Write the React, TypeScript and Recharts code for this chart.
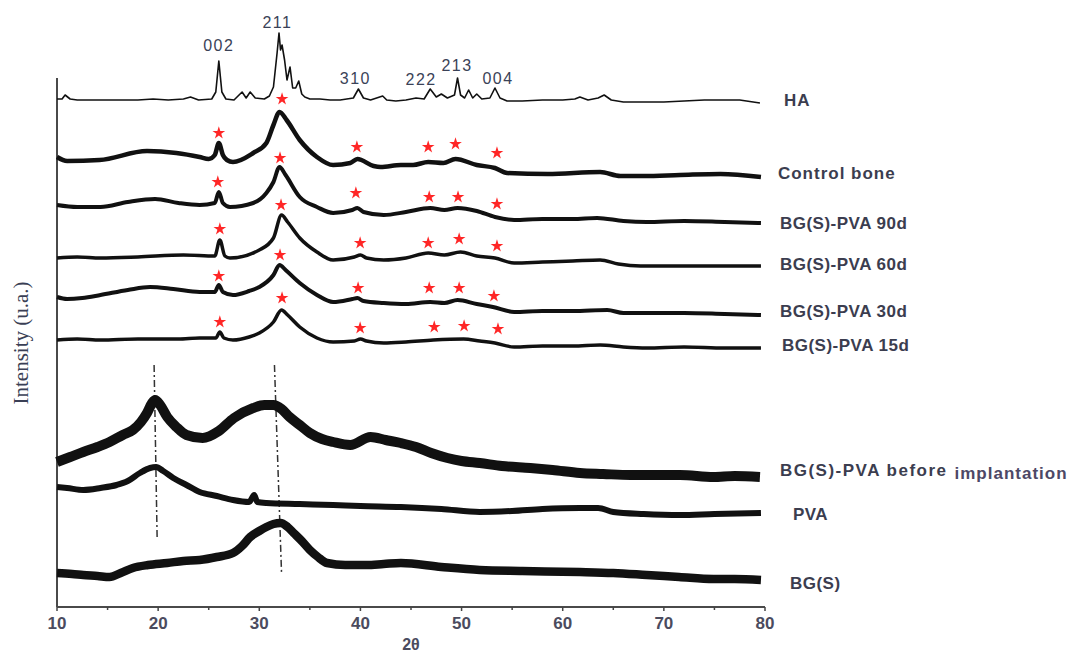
import React from 'react';
import {
  ComposedChart,
  Line,
  Scatter,
  XAxis,
  YAxis,
  ZAxis,
  ReferenceLine,
  Customized,
} from 'recharts';

// ─── Data: [2θ (deg), intensity (a.u., stacked)] ─────────────────────────────

const HA: [number, number][] = [
  [10, 508], [10.5, 508], [10.8, 512], [11.3, 508], [12, 507], [14, 507], [16, 507],
  [18, 507], [19.5, 508], [21, 507], [22.5, 508], [23.2, 510], [24, 507], [25.3, 508],
  [25.7, 515], [26.0, 546], [26.3, 515], [26.7, 508], [27.5, 507], [28.3, 515], [28.7, 509],
  [29.1, 515], [29.6, 509], [30.5, 508], [31.0, 511], [31.4, 520], [31.76, 554], [31.95, 574],
  [32.1, 557], [32.25, 562], [32.5, 547], [32.74, 527], [33.04, 540], [33.3, 519], [33.6, 519],
  [33.9, 526], [34.2, 513], [34.5, 510], [35, 508], [36, 508], [37, 507], [38, 507],
  [39.3, 509], [39.8, 518], [40.3, 509], [41, 507], [42.2, 511], [42.6, 507], [43.5, 506],
  [44.5, 507], [45.5, 509], [46.3, 508], [46.9, 518], [47.5, 510], [48, 513], [48.6, 509],
  [49.3, 512], [49.6, 529], [49.9, 512], [50.3, 509], [50.7, 517], [51.1, 509], [51.5, 513],
  [52, 508], [52.8, 509], [53.3, 519], [53.8, 509], [54.5, 506], [56, 506], [58, 507],
  [60, 507], [61.2, 508], [61.7, 510], [62.5, 507], [63.5, 509], [64.1, 512], [64.8, 507],
  [66, 505], [68, 505], [70, 505], [72, 506], [74, 507], [76, 507], [77.5, 507], [79.5, 504],
];

const CONTROL_BONE: [number, number][] = [
  [10, 450], [11, 446], [14.2, 447], [18.9, 456], [21.8, 454], [24.1, 450], [25, 448],
  [25.6, 452], [26, 464], [26.4, 452], [26.8, 447], [27.4, 445], [29.4, 454], [30.7, 464],
  [31.4, 482], [32, 495], [32.7, 487], [34, 467], [35.7, 450], [37.3, 442], [39, 444],
  [39.7, 448], [41.3, 441], [42, 440], [44, 442], [45.2, 442], [46.7, 445], [48.2, 444],
  [49.4, 448], [51.5, 442], [53.3, 439], [54.5, 434], [58.5, 433], [63.7, 435], [65.7, 431],
  [68, 431], [71.6, 432], [75.6, 433], [79.6, 430],
];

const PVA_90D: [number, number][] = [
  [10, 402], [12, 400], [14.3, 400], [17, 405], [19.7, 408], [22, 404], [24.1, 402],
  [25.6, 404], [26, 415], [26.4, 404], [27.1, 400], [29.4, 404], [30.7, 414], [31.4, 425],
  [32, 440], [32.6, 432], [34, 410], [35.7, 400], [37.3, 394], [39.2, 397], [39.7, 399],
  [40.3, 395], [42.3, 392], [44.5, 395], [46.9, 399], [48.3, 397], [49.6, 399], [51.5, 396],
  [53.3, 390], [55.2, 387], [58, 388], [61, 388], [63.4, 389], [66, 386], [68.3, 385],
  [72, 386], [76, 385], [79.6, 384],
];

const PVA_60D: [number, number][] = [
  [10, 349], [12, 350], [14.3, 349], [18, 350], [22.5, 352], [25.6, 351], [26.1, 367],
  [26.6, 351], [27.1, 349], [30, 357], [31.4, 369], [32.2, 392], [32.8, 385], [34, 369],
  [35.7, 355], [37.3, 347], [39.4, 350], [40, 352], [40.6, 349], [42.3, 347], [44.5, 349],
  [46.7, 354], [48.3, 352], [49.9, 355], [51.5, 351], [53.3, 349], [55.2, 344], [58, 345],
  [61, 346], [63.7, 347], [65.5, 343], [67.7, 341], [72, 341], [76, 341], [79.6, 341],
];

const PVA_30D: [number, number][] = [
  [10, 310], [11, 308], [12.5, 309], [14.3, 312], [17, 317], [19.2, 320], [21.5, 318],
  [24.1, 315], [25.6, 315], [26, 322], [26.4, 315], [27.4, 312], [29, 316], [30, 320],
  [31.4, 332], [32, 342], [32.6, 337], [34, 324], [35.7, 312], [37.3, 305], [39.2, 308],
  [39.7, 309], [40.3, 306], [42.3, 304], [44.5, 303], [46.9, 305], [48.3, 304], [49.6, 307],
  [51.5, 303], [53.1, 300], [55.2, 295], [58, 296], [61, 296], [64.4, 297], [66, 294],
  [68.3, 294], [72, 294], [76, 293], [79.6, 292],
];

const PVA_15D: [number, number][] = [
  [10, 267], [12, 268], [14.3, 267], [18, 268], [22, 268], [24.1, 269], [25.7, 269],
  [26.1, 275], [26.5, 269], [27.4, 267], [29, 270], [30, 274], [31.4, 285], [32.2, 297],
  [32.8, 292], [34, 280], [35.7, 269], [37.3, 265], [39.4, 266], [40, 268], [40.6, 266],
  [42.3, 264], [44.5, 265], [47.2, 267], [50.2, 268], [51.8, 266], [53.3, 264], [55.2, 260],
  [58, 261], [61, 261], [63.7, 262], [66, 260], [68.3, 259], [72, 260], [76, 259], [79.6, 259],
];

const BEFORE_IMPLANT: [number, number][] = [
  [10, 145], [11.3, 150], [12.6, 155], [14, 160], [15.2, 165], [16.5, 172], [17.5, 177],
  [18.3, 185], [18.9, 194], [19.4, 204], [19.7, 207], [20.2, 202], [20.9, 190], [21.8, 180],
  [22.8, 172], [24.4, 169], [26, 176], [27.5, 189], [29.4, 199], [30.5, 202], [31.4, 202],
  [32.2, 198], [33, 190], [34, 182], [35, 174], [36.2, 168], [37.3, 165], [39, 162],
  [41, 170], [42.5, 167], [44, 164], [45.5, 160], [47, 154], [48.6, 149], [50, 146],
  [51.8, 144], [54, 141], [56.8, 139], [59, 137], [61.7, 134], [64, 133], [66.7, 132],
  [69, 132], [71.6, 132], [74.9, 130], [77, 131], [79.5, 130],
];

const PVA: [number, number][] = [
  [10, 120], [11, 119], [12.6, 117], [14.3, 119], [15.9, 122], [17, 126], [18.2, 134],
  [19.2, 139], [19.8, 140], [20.5, 136], [21.5, 129], [22.8, 122], [24.1, 115], [25.8, 111],
  [27.4, 107], [29, 105], [29.5, 112], [29.8, 105], [30.7, 104], [34, 103], [37.3, 102],
  [40, 101], [44, 100], [48, 98], [51.8, 95], [55, 96], [58, 98], [61.7, 99], [63.5, 99],
  [65, 95], [68, 93], [71.6, 92], [75, 93], [79.6, 94],
];

const BGS: [number, number][] = [
  [10, 34], [11.5, 33], [12.6, 32], [14, 31], [15.2, 30], [16.3, 34], [17.5, 39], [19, 42],
  [20.9, 44], [22.5, 46], [24.1, 47], [25.8, 50], [27.4, 54], [28.3, 61], [29.1, 70],
  [30, 76], [30.7, 80], [31.4, 83], [32.1, 84], [32.8, 80], [33.4, 74], [34.2, 66], [35, 57],
  [35.8, 50], [36.7, 44], [38.5, 42], [40.6, 42], [42.3, 43], [44, 44], [48, 40], [51.8, 37],
  [56, 36], [61.7, 35], [65, 34], [68.3, 32], [71.5, 30], [74.9, 28], [77, 28], [79.6, 27],
];

// apatite reflections marked with a red star on each pattern
const STARS: [number, number][] = [
  [32.25, 508], [26.0, 474], [39.65, 460], [46.7, 460], [49.4, 463], [53.5, 454],
  [32.05, 449], [25.9, 425], [39.55, 414], [46.8, 410], [49.65, 410], [53.5, 403],
  [32.15, 402], [26.1, 378], [39.97, 364], [46.7, 364], [49.76, 368], [53.5, 361],
  [32.05, 352], [26.0, 331], [39.77, 319], [46.8, 319], [49.76, 319], [53.2, 311],
  [32.25, 309], [26.1, 285], [39.97, 279], [47.3, 280], [50.25, 281], [53.6, 278],
];

const HKL_LABELS = ['002', '211', '310', '222', '213', '004'];
const HKL_POS: [number, number][] = [
  [26.0, 562], [31.8, 585], [39.5, 529], [46.0, 528], [49.55, 542], [53.6, 529],
];

const X_TICKS = [10, 15, 20, 25, 30, 35, 40, 45, 50, 55, 60, 65, 70, 75, 80];

// ─── Styling ─────────────────────────────────────────────────────────────────

const TEXT = '#3b3d4f';
const SANS = '"Liberation Sans", Arial, sans-serif';

type SeriesCfg = {
  name: string;
  extra?: string;
  data: [number, number][];
  width: number;
  curve: 'linear' | 'monotone';
  dx: number;
  dy: number;
  ls: number;
};

const SERIES: SeriesCfg[] = [
  { name: 'HA', data: HA, width: 1.6, curve: 'linear', dx: 24, dy: -3, ls: 1 },
  { name: 'Control bone', data: CONTROL_BONE, width: 4.5, curve: 'monotone', dx: 17, dy: -4, ls: 1 },
  { name: 'BG(S)-PVA 90d', data: PVA_90D, width: 4, curve: 'monotone', dx: 19, dy: 0, ls: 0.5 },
  { name: 'BG(S)-PVA 60d', data: PVA_60D, width: 3.5, curve: 'monotone', dx: 19, dy: -2, ls: 0.5 },
  { name: 'BG(S)-PVA 30d', data: PVA_30D, width: 4, curve: 'monotone', dx: 19, dy: -4, ls: 0.5 },
  { name: 'BG(S)-PVA 15d', data: PVA_15D, width: 3.5, curve: 'monotone', dx: 21, dy: -3, ls: 0.5 },
  { name: 'BG(S)-PVA before', extra: 'implantation', data: BEFORE_IMPLANT, width: 10, curve: 'monotone', dx: 20, dy: -7, ls: 1.5 },
  { name: 'PVA', data: PVA, width: 6, curve: 'monotone', dx: 32, dy: 1, ls: 0.5 },
  { name: 'BG(S)', data: BGS, width: 8.5, curve: 'monotone', dx: 29, dy: 3, ls: 0.5 },
];

const toPts = (arr: [number, number][]) => arr.map(([x, y]) => ({ x, y }));

function endLabel(s: SeriesCfg) {
  const last = s.data.length - 1;
  return (p: any) => {
    if (p.index !== last) return null;
    return (
      <text
        x={p.x + s.dx}
        y={p.y + s.dy}
        dominantBaseline="central"
        fontFamily={SANS}
        fontSize={17}
        fontWeight="bold"
        letterSpacing={s.ls}
        fill={TEXT}
      >
        {s.name}
        {s.extra && (
          <tspan dx={7} dy={3} fill="#4d4866" letterSpacing={1}>
            {s.extra}
          </tspan>
        )}
      </text>
    );
  };
}

function AxisTick({ x, y, payload }: any) {
  const major = payload.value % 10 === 0;
  return (
    <g>
      <line x1={x} x2={x} y1={y} y2={y + (major ? 4 : 3)} stroke="#444" strokeWidth={1.5} />
      {major && (
        <text
          x={x}
          y={y + 16}
          textAnchor="middle"
          dominantBaseline="central"
          fontFamily={SANS}
          fontSize={17}
          fontWeight="bold"
          fill="#4b4b5e"
        >
          {payload.value}
        </text>
      )}
    </g>
  );
}

function YTitle() {
  return (
    <text
      x={21}
      y={343}
      transform="rotate(-90 21 343)"
      textAnchor="middle"
      dominantBaseline="central"
      fontFamily='"Liberation Serif", "Times New Roman", serif'
      fontSize={21}
      fill="#3a3f55"
    >
      Intensity (u.a.)
    </text>
  );
}

const starData = STARS.map(([x, y]) => ({ x, y }));
const hklData = HKL_POS.map(([x, y], i) => ({ x, y, label: HKL_LABELS[i] }));

export default function App() {
  return (
    <div style={{ position: 'absolute', left: 0, top: 0, background: '#fff' }}>
      <ComposedChart
        width={1073}
        height={654}
        margin={{ top: 7, right: 308, bottom: 0, left: 57 }}
      >
        <XAxis
          type="number"
          dataKey="x"
          domain={[10, 80]}
          ticks={X_TICKS}
          interval={0}
          tickLine={false}
          tickSize={0}
          tickMargin={0}
          height={47}
          axisLine={{ stroke: '#4a4a4a', strokeWidth: 2 }}
          tick={<AxisTick />}
          label={{
            value: '2θ',
            position: 'insideBottom',
            offset: 4,
            fill: '#4b4b5e',
            fontSize: 16,
            fontWeight: 'bold',
            fontFamily: SANS,
          }}
        />
        <YAxis type="number" dataKey="y" domain={[0, 600]} hide />
        <ZAxis range={[50, 50]} />

        {/* left axis stub and the dash-dot guides */}
        <ReferenceLine segment={[{ x: 10, y: 0 }, { x: 10, y: 529 }]} stroke="#4a4a4a" strokeWidth={2} />
        <ReferenceLine
          segment={[{ x: 19.6, y: 242 }, { x: 19.9, y: 69 }]}
          stroke="#333"
          strokeWidth={1.5}
          strokeDasharray="7 3 2 3"
        />
        <ReferenceLine
          segment={[{ x: 31.5, y: 242 }, { x: 32.2, y: 34 }]}
          stroke="#333"
          strokeWidth={1.5}
          strokeDasharray="7 3 2 3"
        />

        {SERIES.map((s) => (
          <Line
            key={s.name}
            data={toPts(s.data)}
            dataKey="y"
            type={s.curve}
            stroke="#111"
            strokeWidth={s.width}
            strokeLinejoin="round"
            dot={false}
            activeDot={false}
            isAnimationActive={false}
            label={endLabel(s)}
          />
        ))}

        <Scatter data={starData} dataKey="y" shape="star" fill="#ff2626" isAnimationActive={false} />
        <Scatter
          data={hklData}
          dataKey="y"
          isAnimationActive={false}
          shape={(p: any) => (
            <text
              x={p.cx}
              y={p.cy}
              textAnchor="middle"
              dominantBaseline="central"
              fontFamily={SANS}
              fontSize={16}
              letterSpacing={1.5}
              fill="#3a4257"
            >
              {p.payload.label}
            </text>
          )}
        />

        <Customized component={YTitle} />
      </ComposedChart>
    </div>
  );
}
